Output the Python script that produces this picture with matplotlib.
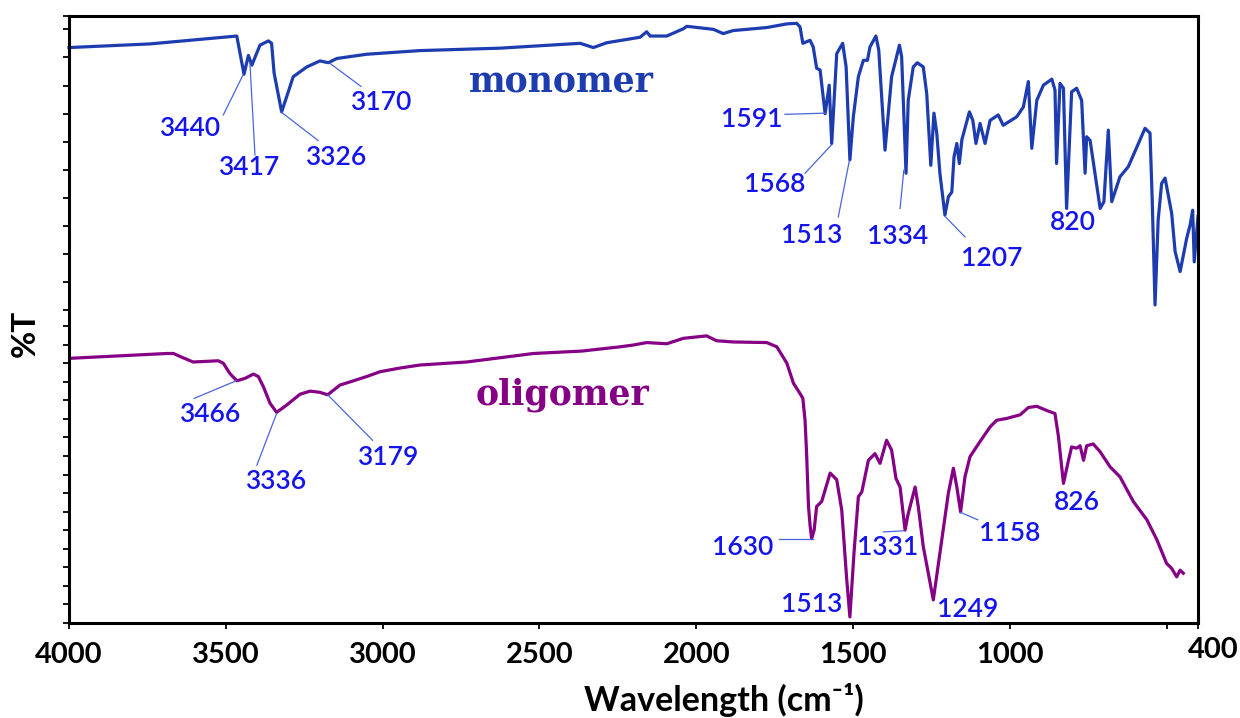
import numpy as np
import matplotlib
matplotlib.use("Agg")
import matplotlib.pyplot as plt

# ---------------- data (wavenumber cm-1, %T arbitrary offset scale) ----------------
mono_wn = [4000, 3742, 3465, 3442, 3428, 3417, 3391, 3364, 3354, 3346, 3322, 3306, 3285, 3242,
           3200, 3173, 3146, 3051, 2881, 2626, 2370, 2328, 2285, 2179, 2158, 2147, 2094, 2041,
           2030, 1945, 1914, 1882, 1775, 1711, 1680, 1669, 1660, 1637, 1627, 1616, 1605, 1589,
           1576, 1568, 1552, 1533, 1522, 1510, 1499, 1483, 1467, 1454, 1446, 1427, 1418, 1398,
           1377, 1352, 1345, 1331, 1324, 1308, 1295, 1276, 1265, 1252, 1242, 1233, 1223, 1207,
           1196, 1185, 1178, 1169, 1161, 1153, 1129, 1118, 1108, 1095, 1079, 1063, 1037, 1021,
           978, 957, 941, 930, 914, 893, 866, 856, 851, 840, 829, 819, 803, 787, 771, 760,
           755, 744, 712, 700, 686, 675, 649, 622, 595, 569, 553, 546, 537, 527, 516, 505,
           484, 473, 457, 436, 425, 417, 412, 400]
mono_t = [94.8, 95.4, 96.7, 90.4, 93.5, 91.9, 95.2, 95.9, 95.5, 90.6, 84.2, 86.7, 90.0, 91.6,
          92.6, 92.3, 93.0, 93.7, 94.3, 94.7, 95.5, 94.8, 95.6, 96.5, 97.4, 96.7, 96.7, 97.9,
          98.3, 97.8, 97.1, 97.6, 98.1, 98.7, 98.8, 98.2, 95.5, 96.0, 94.9, 91.4, 91.1, 83.9,
          88.6, 79.0, 93.8, 95.5, 91.6, 76.3, 83.4, 90.0, 92.7, 92.7, 94.9, 96.7, 94.4, 77.9,
          90.0, 95.2, 93.3, 74.1, 86.1, 91.6, 92.3, 91.6, 87.2, 75.4, 84.0, 80.7, 74.1, 67.2,
          70.2, 71.0, 76.8, 79.0, 75.7, 79.6, 84.2, 82.8, 79.0, 82.3, 79.0, 82.8, 83.7, 82.0,
          83.4, 85.0, 89.2, 78.2, 86.1, 88.6, 89.6, 87.8, 75.7, 88.9, 88.1, 68.3, 87.5, 88.1, 86.1, 74.1,
          80.1, 79.5, 68.3, 69.4, 81.2, 69.4, 73.5, 75.2, 78.4, 81.5, 80.7, 69.7, 52.4, 66.4, 72.4, 73.3,
          67.5, 61.2, 57.9, 63.4, 65.6, 68.0, 59.5, 67.0]

olig_wn = [3999, 3688, 3667, 3641, 3604, 3524, 3508, 3487, 3465, 3439, 3412, 3396, 3380, 3359,
           3338, 3306, 3263, 3231, 3200, 3175, 3136, 3093, 3051, 3008, 2945, 2881, 2732, 2519,
           2365, 2243, 2200, 2158, 2094, 2041, 1967, 1935, 1882, 1775, 1743, 1711, 1690, 1669,
           1660, 1653, 1648, 1642, 1637, 1632, 1624, 1616, 1600, 1573, 1552, 1536, 1520, 1510,
           1497, 1483, 1472, 1451, 1430, 1414, 1393, 1377, 1363, 1350, 1334, 1325, 1302, 1292,
           1276, 1260, 1244, 1223, 1196, 1180, 1169, 1157, 1143, 1127, 1095, 1063, 1042, 1010,
           967, 941, 914, 882, 856, 845, 829, 813, 803, 787, 776, 765, 755, 734, 712, 680,
           649, 606, 563, 531, 500, 484, 468, 457, 447]
olig_t = [43.6, 44.4, 44.4, 43.8, 43.0, 43.2, 42.8, 41.1, 39.9, 40.3, 41.0, 40.6, 38.9, 36.2,
          34.7, 35.9, 37.7, 38.2, 38.0, 37.6, 39.2, 39.9, 40.6, 41.4, 42.0, 42.5, 43.0, 44.4,
          44.8, 45.5, 45.8, 46.2, 46.0, 46.9, 47.3, 46.5, 46.3, 46.2, 45.5, 42.8, 39.5, 37.8,
          37.0, 33.4, 27.9, 19.2, 16.1, 13.9, 15.3, 19.2, 20.0, 24.7, 23.6, 18.6, 7.1, 1.0,
          11.5, 20.8, 21.6, 26.8, 27.9, 26.3, 30.1, 28.5, 23.8, 22.4, 15.3, 17.8, 22.4, 19.2,
          12.6, 8.2, 3.8, 11.5, 21.4, 25.5, 22.4, 18.3, 24.1, 27.4, 29.9, 32.3, 33.4, 33.7,
          34.3, 35.5, 35.7, 35.0, 34.5, 30.7, 23.0, 26.8, 29.0, 28.8, 29.2, 26.8, 29.2, 29.5, 28.2, 25.7,
          24.1, 20.0, 17.0, 13.7, 9.8, 9.0, 7.6, 8.7, 8.2]

mono_peaks = ["3440", "3417", "3326", "3170", "1591", "1568", "1513", "1334", "1207", "820"]
olig_peaks = ["3466", "3336", "3179", "1630", "1513", "1331", "1249", "1158", "826"]
x_tick_vals = [4000, 3500, 3000, 2500, 2000, 1500, 1000]

# ---------------- layout of annotations (text pos, line start, line end) ----------------
mono_ann = [((3616, 81.4), (3508, 83.7), (3445, 90.3)),
            ((3428, 75.0), (3407, 77.1), (3423, 92.2)),
            ((3150, 76.7), (3206, 79.5), (3324, 84.2)),
            ((3005, 85.7), (3069, 88.4), (3168, 92.2)),
            ((1822, 82.9), (1717, 83.8), (1589, 84.0)),
            ((1750, 72.2), (1653, 74.1), (1570, 78.7)),
            ((1631, 63.9), (1547, 66.9), (1512, 76.1)),
            ((1357, 63.6), (1350, 68.3), (1338, 74.6)),
            ((1057, 60.1), (1143, 63.6), (1207, 67.0)),
            ((798, 66.0), None, None)]
olig_ann = [((3550, 34.3), (3601, 37.0), (3467, 39.9)),
            ((3342, 23.3), (3401, 26.0), (3338, 34.5)),
            ((2983, 27.3), (3032, 30.1), (3175, 37.6)),
            ((1851, 12.5), (1737, 13.9), (1628, 13.9)),
            ((1632, 3.1), None, None),
            ((1390, 12.4), (1403, 15.0), (1337, 15.2)),
            ((1135, 2.3), None, None),
            ((1001, 14.8), (1102, 17.0), (1156, 18.2)),
            ((787, 19.8), None, None)]

MONO_C = "#1c3cb0"
OLIG_C = "#850085"
ANN_C = "#1414ee"
LINE_C = "#4a64e0"
NUM_FONT = ["Lato", "DejaVu Sans"]

fig = plt.figure(figsize=(12.4, 7.18), dpi=100)
ax = fig.add_axes([69 / 1240, 1 - 623 / 718, (1198 - 69) / 1240, (623 - 16) / 718])

ax.plot(mono_wn, mono_t, color=MONO_C, lw=2.3, solid_joinstyle="round", clip_on=False)
ax.plot(olig_wn, olig_t, color=OLIG_C, lw=2.3, solid_joinstyle="round")

ax.set_xlim(4000, 400)
ax.set_ylim(0, 100)

for lab, (tpos, l0, l1) in zip(mono_peaks + olig_peaks, mono_ann + olig_ann):
    if l0 is not None:
        ax.plot([l0[0], l1[0]], [l0[1], l1[1]], color=LINE_C, lw=0.9)
    ax.text(tpos[0], tpos[1], lab, color=ANN_C, fontsize=19, family=NUM_FONT,
            fontweight="semibold", ha="center", va="center")

ax.text(2431, 89.0, "monomer", color=MONO_C, fontsize=25, family="DejaVu Serif",
        fontweight="bold", ha="center", va="center")
ax.text(2426, 37.6, "oligomer", color=OLIG_C, fontsize=25, family="DejaVu Serif",
        fontweight="bold", ha="center", va="center")

# axes styling
for s in ax.spines.values():
    s.set_linewidth(2.2)
    s.set_color("black")
ax.set_xticks(x_tick_vals + [500, 400])
ax.set_xticklabels([str(v) for v in x_tick_vals] + ["", ""])
ax.tick_params(axis="x", direction="out", length=4, width=1.3, pad=10,
               labelsize=21)
for t in ax.get_xticklabels():
    t.set_fontweight("bold")
    t.set_family(NUM_FONT)
ax.annotate("400", xy=(400, 0), xycoords=("data", "axes fraction"),
            xytext=(11, -9.8), textcoords="offset points", ha="center", va="top",
            fontsize=21, fontweight="bold", family=NUM_FONT)

upper = 97.8 - 4.63 * np.arange(11)
lower = 3.057 * np.arange(17)
ax.set_yticks(np.concatenate([[100], upper, lower]))
ax.set_yticklabels([])
ax.tick_params(axis="y", direction="out", length=4, width=1.3)

fig.text(25 / 1240, 1 - 333 / 718, "%T", rotation=90, fontsize=24, fontweight="bold",
         family=NUM_FONT, ha="center", va="center")
fig.text(724 / 1240, 1 - 711 / 718, "Wavelength (cm\u207b\u00b9)", fontsize=24.5,
         fontweight="bold", family=NUM_FONT, ha="center", va="baseline")

fig.savefig("out.png", dpi=100)
